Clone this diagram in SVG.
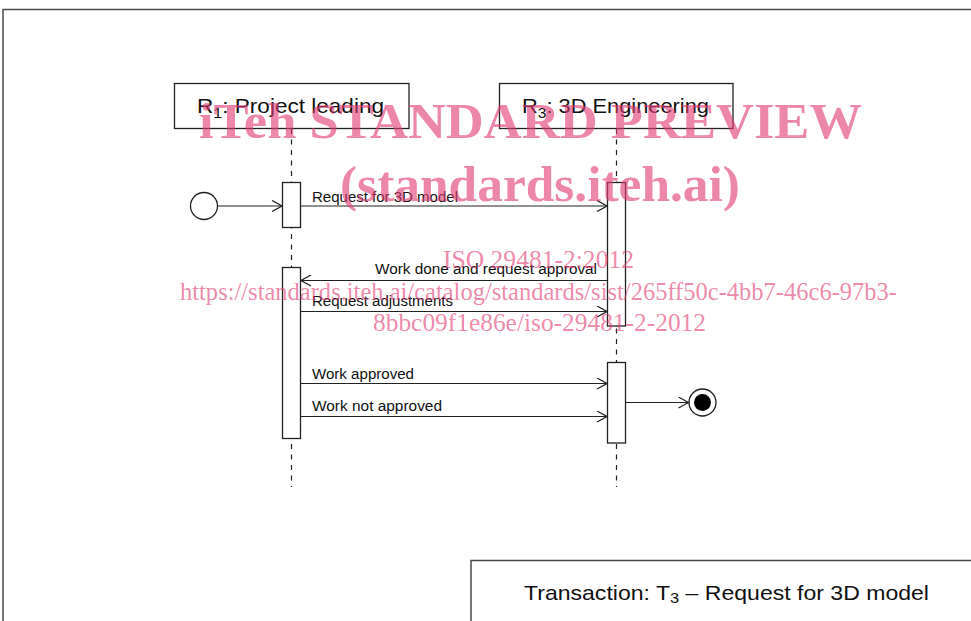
<svg xmlns="http://www.w3.org/2000/svg" width="971" height="621" viewBox="0 0 971 621">
  <style>
    .frame { fill: none; stroke: #4a4a4a; stroke-width: 1.5; }
    .box { fill: #ffffff; stroke: #222222; stroke-width: 1.3; }
    .life { fill: none; stroke: #222222; stroke-width: 1.2; stroke-dasharray: 5 5.5; }
    .msg { fill: none; stroke: #222222; stroke-width: 1.2; marker-end: url(#open); }
    .head { font-family: "Liberation Sans", Arial, sans-serif; font-size: 21px; fill: #111111; }
    .lbl { font-family: "Liberation Sans", Arial, sans-serif; font-size: 14px; fill: #111111; }
    .wm { font-family: "Liberation Serif", "Times New Roman", serif; fill: #e23d75; fill-opacity: 0.62; }
    .wmb { font-size: 50px; font-weight: bold; }
    .wms { font-size: 25.5px; }
  </style>
  <defs>
    <marker id="open" viewBox="0 0 12 12" refX="11" refY="6" markerWidth="12" markerHeight="12" markerUnits="userSpaceOnUse" orient="auto">
      <path d="M1,0.5 L11,6 L1,11.5" fill="none" stroke="#222222" stroke-width="1.2"/>
    </marker>
  </defs>

  <rect width="971" height="621" fill="#ffffff"/>

  <!-- outer frame and caption box -->
  <path class="frame" d="M3,621 L3,9.5 L971,9.5"/>
  <g id="caption">
    <path class="frame" d="M471,621 L471,560.5 L971,560.5"/>
    <text class="head" x="524" y="600" textLength="405" lengthAdjust="spacingAndGlyphs">Transaction: T<tspan font-size="15" dy="3">3</tspan><tspan dy="-3"> – Request for 3D model</tspan></text>
  </g>

  <!-- lifelines -->
  <g id="lifelines">
    <line class="life" x1="291.5" y1="129" x2="291.5" y2="487"/>
    <line class="life" x1="616.5" y1="129" x2="616.5" y2="487"/>
  </g>

  <g id="r1">
    <rect class="box" x="174.5" y="83.5" width="234.5" height="45"/>
    <text class="head" x="197" y="112.7" textLength="187" lengthAdjust="spacingAndGlyphs">R<tspan font-size="15" dy="5">1</tspan><tspan dy="-5">: Project  leading</tspan></text>
  </g>
  <g id="r3">
    <rect class="box" x="499.5" y="83.5" width="233.5" height="45"/>
    <text class="head" x="522" y="112.7" textLength="187" lengthAdjust="spacingAndGlyphs">R<tspan font-size="15" dy="5">3</tspan><tspan dy="-5">: 3D Engineering</tspan></text>
  </g>

  <!-- activation bars -->
  <g id="r1-act1"><rect class="box" x="282.5" y="182.5" width="18" height="45"/></g>
  <g id="r1-act2"><rect class="box" x="282.5" y="267.5" width="18" height="171"/></g>
  <g id="r3-act1"><rect class="box" x="607.5" y="182.5" width="18" height="143.5"/></g>
  <g id="r3-act2"><rect class="box" x="607.5" y="362.5" width="18" height="80.5"/></g>

  <g id="start"><circle cx="204" cy="206" r="13.5" fill="#ffffff" stroke="#222222" stroke-width="1.3"/></g>
  <g id="end">
    <circle cx="702.5" cy="402.5" r="13.5" fill="#ffffff" stroke="#222222" stroke-width="1.3"/>
    <circle cx="702.5" cy="402.5" r="8.5" fill="#000000"/>
  </g>

  <!-- messages -->
  <g id="connectors">
    <line class="msg" x1="217.5" y1="206" x2="282" y2="206"/>
    <line class="msg" x1="300.5" y1="206" x2="607" y2="206"/>
    <line class="msg" x1="607" y1="280.5" x2="301" y2="280.5"/>
    <line class="msg" x1="300.5" y1="311.5" x2="607" y2="311.5"/>
    <line class="msg" x1="300.5" y1="383.5" x2="607" y2="383.5"/>
    <line class="msg" x1="300.5" y1="416.5" x2="607" y2="416.5"/>
    <line class="msg" x1="625.5" y1="402.5" x2="688.5" y2="402.5"/>
    <text class="lbl" x="312" y="201.5" textLength="146" lengthAdjust="spacingAndGlyphs">Request for 3D model</text>
    <text class="lbl" x="375" y="274.3" textLength="222" lengthAdjust="spacingAndGlyphs">Work done and request  approval</text>
    <text class="lbl" x="312" y="305.7" textLength="141" lengthAdjust="spacingAndGlyphs">Request adjustments</text>
    <text class="lbl" x="312" y="379" textLength="102" lengthAdjust="spacingAndGlyphs">Work approved</text>
    <text class="lbl" x="312" y="410.7" textLength="130" lengthAdjust="spacingAndGlyphs">Work not  approved</text>
  </g>

  <!-- overprinted publisher notice -->
  <g id="notice" class="wm">
    <text class="wmb" x="199" y="138" textLength="663" lengthAdjust="spacingAndGlyphs">iTeh STANDARD PREVIEW</text>
    <text class="wmb" x="340" y="201" textLength="400" lengthAdjust="spacingAndGlyphs">(standards.iteh.ai)</text>
    <text class="wms" x="443" y="268" textLength="191" lengthAdjust="spacingAndGlyphs">ISO 29481-2:2012</text>
    <text class="wms" x="180" y="300" textLength="717" lengthAdjust="spacingAndGlyphs">https://standards.iteh.ai/catalog/standards/sist/265ff50c-4bb7-46c6-97b3-</text>
    <text class="wms" x="373" y="331" textLength="333" lengthAdjust="spacingAndGlyphs">8bbc09f1e86e/iso-29481-2-2012</text>
  </g>
</svg>
